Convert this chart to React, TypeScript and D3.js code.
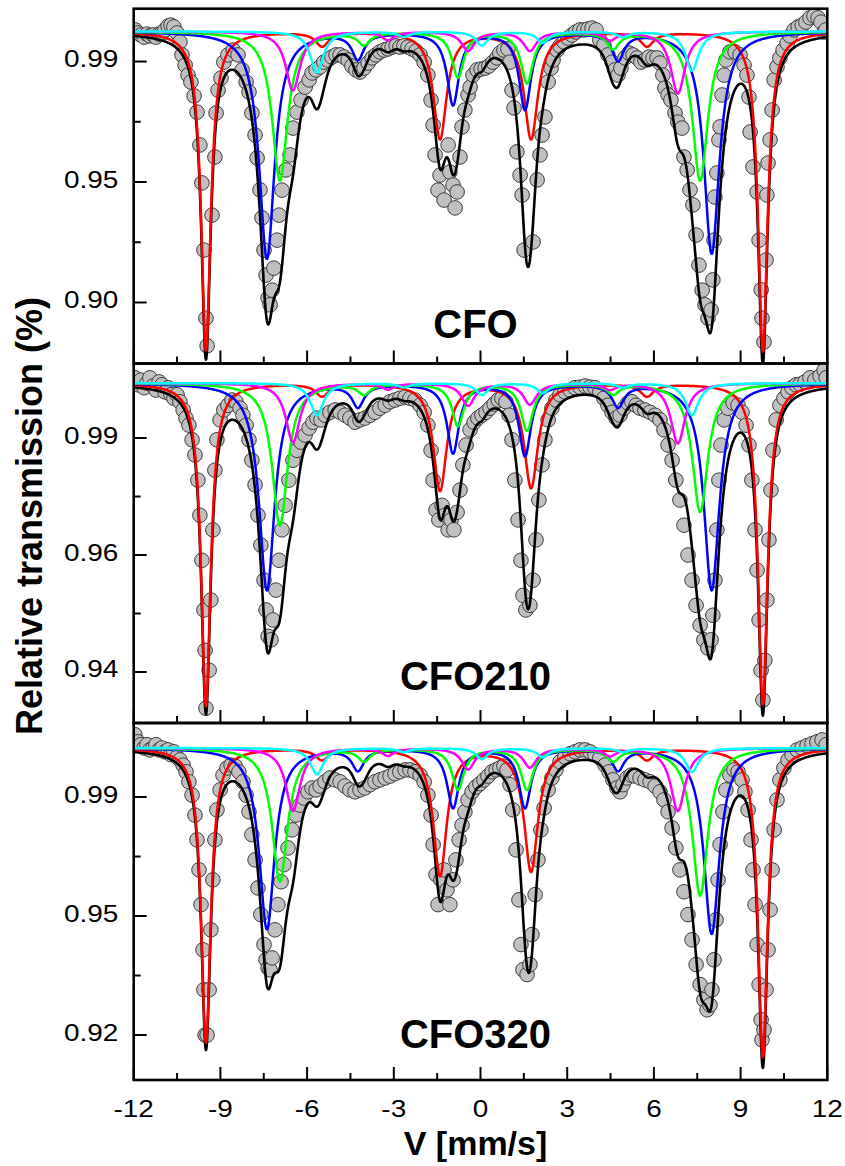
import React from "react";
import * as d3 from "d3";

// ---------- axis data ----------
const velocityDomain = [-12, 12];
const velocityTicks = [-12, -9, -6, -3, 0, 3, 6, 9, 12];
const velocityTickLabels = ["-12", "-9", "-6", "-3", "0", "3", "6", "9", "12"];
const panelNames = ["CFO", "CFO210", "CFO320"];

const cfoDomain = [0.88974, 1.00754];
const cfoTicks = [0.99, 0.95, 0.91];
const cfoTickLabels = ["0.99", "0.95", "0.90"];
const cfo210Domain = [0.94128, 1.00274];
const cfo210Ticks = [0.99, 0.97, 0.95];
const cfo210TickLabels = ["0.99", "0.96", "0.94"];
const cfo320Domain = [0.93055, 1.00555];
const cfo320Ticks = [0.99, 0.965, 0.94];
const cfo320TickLabels = ["0.99", "0.95", "0.92"];
const baselines = [1.0, 0.9994, 1.0003];

// ---------- sextet components (line positions mm/s, FWHM mm/s) ----------
const redPos = [-9.5, -5.48, -1.4, 1.75, 5.76, 9.77];
const bluePos = [-7.39, -4.24, -0.95, 1.54, 4.76, 8.0];
const greenPos = [-6.94, -4.03, -0.78, 1.61, 4.59, 7.6];
const magentaPos = [-6.49, -3.2, -0.43, 1.71, 4.48, 6.83];
const cyanPos = [-5.66, -2.65, 0.05, 2.16, 4.93, 7.32];

const redWidth = [0.4, 0.55, 0.56, 0.58, 0.55, 0.4];
const blueWidth = [0.65, 0.5, 0.5, 0.5, 0.5, 0.65];
const greenWidth = [0.65, 0.5, 0.5, 0.5, 0.5, 0.65];
const magentaWidth = [0.6, 0.5, 0.55, 0.55, 0.5, 0.6];
const cyanWidth = [0.55, 0.5, 0.5, 0.5, 0.5, 0.55];

// depths (transmission units)
const cfoRed = [0.1059, 0.0046, 0.0355, 0.0355, 0.0046, 0.1062];
const cfoBlue = [0.0754, 0.0086, 0.024, 0.0256, 0.009, 0.0737];
const cfoGreen = [0.0495, 0.004, 0.015, 0.0169, 0.0053, 0.0495];
const cfoMagenta = [0.0196, 0.0027, 0.0063, 0.0063, 0.0027, 0.0206];
const cfoCyan = [0.0136, 0.0017, 0.0046, 0.0037, 0.0017, 0.013];

const cfo210Red = [0.0552, 0.0021, 0.0183, 0.0178, 0.0021, 0.0549];
const cfo210Blue = [0.0354, 0.0038, 0.0118, 0.0123, 0.0038, 0.0354];
const cfo210Green = [0.0243, 0.0017, 0.0072, 0.008, 0.0017, 0.022];
const cfo210Magenta = [0.0101, 0.001, 0.0038, 0.0036, 0.001, 0.0103];
const cfo210Cyan = [0.0055, 0.0007, 0.002, 0.0017, 0.0007, 0.0055];

const cfo320Red = [0.0618, 0.0023, 0.0267, 0.0258, 0.0023, 0.0649];
const cfo320Blue = [0.038, 0.0044, 0.0124, 0.0124, 0.0044, 0.039];
const cfo320Green = [0.028, 0.0025, 0.0086, 0.0086, 0.0025, 0.031];
const cfo320Magenta = [0.0132, 0.0015, 0.0044, 0.004, 0.0015, 0.0132];
const cfo320Cyan = [0.0055, 0.0008, 0.0023, 0.0019, 0.0008, 0.005];

// ---------- measured points [velocity, transmission] ----------
const cfoData = [
  [-11.95, 1.0005], [-11.85, 0.9995], [-11.75, 0.9988], [-11.64, 0.9981], [-11.54, 0.9991], [-11.44, 0.9985],
  [-11.33, 0.9988], [-11.23, 0.9981], [-11.12, 0.9991], [-11.02, 0.9995], [-10.92, 1.0005], [-10.81, 1.0018],
  [-10.71, 1.0021], [-10.61, 1.0015], [-10.5, 0.9995], [-10.4, 0.9965], [-10.33, 0.9922], [-10.22, 0.9888],
  [-10.12, 0.9855], [-10.02, 0.9832], [-9.91, 0.9786], [-9.81, 0.9732], [-9.71, 0.9623], [-9.64, 0.9497],
  [-9.57, 0.9274], [-9.5, 0.9048], [-9.46, 0.8956], [-9.29, 0.939], [-9.19, 0.9583], [-9.15, 0.9729],
  [-9.08, 0.9805], [-8.98, 0.9845], [-8.88, 0.9898], [-8.74, 0.9922], [-8.56, 0.9938], [-8.39, 0.9922],
  [-8.25, 0.9872], [-8.11, 0.9832], [-8.01, 0.9799], [-7.91, 0.9729], [-7.8, 0.9656], [-7.73, 0.958],
  [-7.63, 0.9474], [-7.56, 0.9381], [-7.49, 0.9274], [-7.42, 0.9191], [-7.35, 0.9115], [-7.28, 0.9092],
  [-7.21, 0.9141], [-7.15, 0.9214], [-7.04, 0.9307], [-6.97, 0.939], [-6.87, 0.9473], [-6.73, 0.954],
  [-6.59, 0.959], [-6.49, 0.9679], [-6.35, 0.9732], [-6.21, 0.9772], [-6.07, 0.9815], [-5.93, 0.9839],
  [-5.83, 0.9862], [-5.69, 0.9872], [-5.55, 0.9882], [-5.42, 0.9898], [-5.28, 0.9905], [-5.14, 0.9915],
  [-5.0, 0.9922], [-4.86, 0.9922], [-4.72, 0.9915], [-4.58, 0.9905], [-4.45, 0.9885], [-4.31, 0.9872],
  [-4.17, 0.9865], [-4.03, 0.9878], [-3.89, 0.9895], [-3.75, 0.9912], [-3.62, 0.9922], [-3.48, 0.9932],
  [-3.34, 0.9938], [-3.2, 0.9942], [-3.06, 0.9948], [-2.92, 0.9952], [-2.79, 0.9948], [-2.65, 0.9952],
  [-2.51, 0.9948], [-2.37, 0.9942], [-2.23, 0.9935], [-2.09, 0.9922], [-1.95, 0.9898], [-1.82, 0.9855],
  [-1.71, 0.9772], [-1.64, 0.9689], [-1.57, 0.959], [-1.47, 0.9473], [-1.4, 0.9523], [-1.26, 0.944],
  [-1.12, 0.9623], [-1.06, 0.9533], [-0.95, 0.949], [-0.88, 0.9414], [-0.81, 0.9467], [-0.71, 0.9583],
  [-0.64, 0.9683], [-0.54, 0.9739], [-0.43, 0.9789], [-0.36, 0.9815], [-0.26, 0.9855], [-0.12, 0.9872],
  [0.02, 0.9875], [0.16, 0.9878], [0.29, 0.9885], [0.43, 0.9898], [0.57, 0.9912], [0.67, 0.9928],
  [0.81, 0.9938], [0.95, 0.9942], [1.02, 0.9898], [1.09, 0.9805], [1.16, 0.9746], [1.26, 0.96],
  [1.37, 0.9523], [1.44, 0.9457], [1.51, 0.9274], [1.82, 0.9301], [1.96, 0.9507], [2.06, 0.959],
  [2.13, 0.9656], [2.23, 0.9716], [2.34, 0.9832], [2.44, 0.9878], [2.51, 0.9905], [2.65, 0.9938],
  [2.75, 0.9952], [2.89, 0.9965], [3.03, 0.9978], [3.17, 0.9988], [3.3, 0.9998], [3.44, 1.0005],
  [3.58, 1.0005], [3.72, 1.0008], [3.86, 1.0011], [4.0, 1.0005], [4.13, 0.9971], [4.27, 0.9955],
  [4.41, 0.9922], [4.55, 0.9898], [4.65, 0.9872], [4.76, 0.9855], [4.86, 0.9878], [5.0, 0.9912],
  [5.14, 0.9928], [5.28, 0.9922], [5.42, 0.9912], [5.55, 0.9898], [5.69, 0.9905], [5.83, 0.9915],
  [5.97, 0.9912], [6.11, 0.9912], [6.21, 0.9895], [6.31, 0.9855], [6.38, 0.9812], [6.49, 0.9789],
  [6.59, 0.9772], [6.73, 0.9729], [6.83, 0.9699], [6.97, 0.9679], [7.04, 0.9583], [7.15, 0.954],
  [7.25, 0.9474], [7.35, 0.9424], [7.46, 0.9324], [7.56, 0.9224], [7.67, 0.9141], [7.77, 0.9092],
  [7.87, 0.9048], [7.98, 0.9075], [8.04, 0.9175], [8.08, 0.9307], [8.11, 0.945], [8.18, 0.953],
  [8.25, 0.964], [8.29, 0.9683], [8.36, 0.9789], [8.43, 0.9855], [8.49, 0.9905], [8.63, 0.9932],
  [8.81, 0.9932], [8.98, 0.9922], [9.12, 0.9888], [9.22, 0.9855], [9.29, 0.9782], [9.33, 0.9666],
  [9.43, 0.955], [9.57, 0.9467], [9.64, 0.9307], [9.71, 0.9142], [9.74, 0.9048], [9.81, 0.8969],
  [9.88, 0.9241], [9.91, 0.9457], [9.95, 0.9563], [10.02, 0.964], [10.09, 0.9739], [10.16, 0.9839],
  [10.26, 0.9882], [10.36, 0.9912], [10.47, 0.9938], [10.61, 0.9961], [10.71, 0.9985], [10.85, 1.0005],
  [10.99, 1.0015], [11.13, 1.0021], [11.26, 1.0031], [11.4, 1.0045], [11.54, 1.0051], [11.68, 1.0045],
  [11.78, 1.0031], [11.89, 0.9998], [11.95, 1.0005],
];

const cfo210Data = [
  [-11.96, 1.0003], [-11.85, 0.9991], [-11.75, 0.9999], [-11.64, 0.9986], [-11.54, 0.9994], [-11.44, 1.0003],
  [-11.33, 0.9989], [-11.23, 0.9982], [-11.12, 0.9996], [-11.02, 0.9991], [-10.92, 0.9979], [-10.81, 0.9986],
  [-10.71, 0.9974], [-10.61, 0.9968], [-10.5, 0.9974], [-10.4, 0.9962], [-10.29, 0.9948], [-10.19, 0.9934],
  [-10.09, 0.9922], [-9.98, 0.9897], [-9.88, 0.9871], [-9.78, 0.9828], [-9.71, 0.9768], [-9.64, 0.9691],
  [-9.57, 0.9606], [-9.53, 0.9537], [-9.5, 0.9438], [-9.39, 0.9503], [-9.33, 0.9623], [-9.26, 0.9743],
  [-9.19, 0.9845], [-9.12, 0.9897], [-9.01, 0.9931], [-8.88, 0.9948], [-8.74, 0.9956], [-8.6, 0.9965],
  [-8.46, 0.9962], [-8.32, 0.9951], [-8.22, 0.9939], [-8.11, 0.9922], [-8.01, 0.9897], [-7.91, 0.9862],
  [-7.8, 0.982], [-7.7, 0.9768], [-7.6, 0.9717], [-7.49, 0.9657], [-7.42, 0.9606], [-7.35, 0.9561],
  [-7.25, 0.9555], [-7.18, 0.9589], [-7.08, 0.964], [-6.97, 0.9691], [-6.87, 0.9743], [-6.76, 0.9785],
  [-6.63, 0.9828], [-6.49, 0.9862], [-6.35, 0.9879], [-6.21, 0.9893], [-6.07, 0.9905], [-5.93, 0.9917],
  [-5.8, 0.9927], [-5.66, 0.9934], [-5.52, 0.9931], [-5.38, 0.9939], [-5.21, 0.9944], [-5.03, 0.9948],
  [-4.86, 0.9944], [-4.69, 0.9939], [-4.52, 0.9934], [-4.34, 0.9927], [-4.17, 0.9931], [-4.0, 0.9934],
  [-3.82, 0.9939], [-3.65, 0.9944], [-3.48, 0.9951], [-3.3, 0.9956], [-3.13, 0.9962], [-2.96, 0.9965],
  [-2.79, 0.9968], [-2.61, 0.997], [-2.44, 0.9968], [-2.27, 0.9965], [-2.09, 0.9956], [-1.95, 0.9944],
  [-1.82, 0.9922], [-1.71, 0.9879], [-1.64, 0.9828], [-1.54, 0.9777], [-1.44, 0.976], [-1.33, 0.9785],
  [-1.23, 0.9768], [-1.12, 0.9743], [-1.02, 0.976], [-0.92, 0.9743], [-0.81, 0.9773], [-0.71, 0.9811],
  [-0.61, 0.9854], [-0.5, 0.9888], [-0.36, 0.9914], [-0.22, 0.9927], [-0.09, 0.9934], [0.05, 0.9939],
  [0.19, 0.9944], [0.33, 0.9951], [0.47, 0.9958], [0.61, 0.9965], [0.74, 0.9968], [0.88, 0.9962],
  [0.99, 0.9939], [1.09, 0.9897], [1.19, 0.9828], [1.3, 0.976], [1.4, 0.9691], [1.47, 0.9631],
  [1.57, 0.9606], [1.71, 0.9614], [1.82, 0.9657], [1.92, 0.9726], [2.02, 0.9794], [2.13, 0.9854],
  [2.23, 0.9897], [2.34, 0.9931], [2.47, 0.9951], [2.61, 0.9965], [2.75, 0.9974], [2.92, 0.9979],
  [3.1, 0.9982], [3.27, 0.9986], [3.44, 0.9987], [3.62, 0.9989], [3.79, 0.9987], [3.96, 0.9986],
  [4.13, 0.9979], [4.27, 0.9968], [4.41, 0.9956], [4.55, 0.9944], [4.69, 0.9934], [4.83, 0.9939],
  [4.97, 0.9951], [5.1, 0.996], [5.24, 0.9962], [5.38, 0.9956], [5.52, 0.9951], [5.69, 0.9948],
  [5.87, 0.9944], [6.04, 0.9939], [6.21, 0.9931], [6.35, 0.9914], [6.49, 0.9888], [6.63, 0.9862],
  [6.76, 0.9828], [6.9, 0.9794], [7.04, 0.9751], [7.18, 0.97], [7.32, 0.9657], [7.46, 0.9614],
  [7.6, 0.958], [7.73, 0.9555], [7.87, 0.9541], [7.98, 0.9555], [8.04, 0.9597], [8.11, 0.9657],
  [8.18, 0.9743], [8.25, 0.9828], [8.32, 0.9888], [8.43, 0.9931], [8.56, 0.9951], [8.74, 0.996],
  [8.91, 0.9956], [9.05, 0.9944], [9.19, 0.9922], [9.29, 0.9888], [9.39, 0.9828], [9.5, 0.9743],
  [9.57, 0.9674], [9.64, 0.9589], [9.71, 0.9503], [9.77, 0.9452], [9.84, 0.952], [9.91, 0.9623],
  [9.98, 0.9726], [10.05, 0.9811], [10.12, 0.9879], [10.23, 0.9931], [10.36, 0.9956], [10.5, 0.9968],
  [10.64, 0.9979], [10.78, 0.9986], [10.92, 0.9991], [11.06, 0.9992], [11.23, 0.9996], [11.4, 1.0003],
  [11.57, 0.9999], [11.75, 1.0006], [11.89, 1.0016], [11.96, 1.0003],
];

const cfo320Data = [
  [-11.96, 1.0031], [-11.85, 1.0016], [-11.75, 1.001], [-11.64, 1.0003], [-11.54, 1.001], [-11.44, 0.9999],
  [-11.33, 1.0003], [-11.23, 1.001], [-11.12, 0.9999], [-11.02, 1.0003], [-10.92, 0.9995], [-10.81, 0.9999],
  [-10.71, 0.9989], [-10.61, 0.9995], [-10.5, 0.9984], [-10.4, 0.9978], [-10.29, 0.9967], [-10.19, 0.9953],
  [-10.09, 0.9932], [-9.98, 0.9904], [-9.88, 0.9862], [-9.81, 0.981], [-9.74, 0.9747], [-9.67, 0.9674],
  [-9.6, 0.9579], [-9.57, 0.9495], [-9.53, 0.94], [-9.46, 0.94], [-9.39, 0.9495], [-9.33, 0.9621],
  [-9.26, 0.9726], [-9.19, 0.981], [-9.12, 0.9873], [-9.01, 0.9915], [-8.91, 0.9946], [-8.77, 0.9961],
  [-8.63, 0.9967], [-8.49, 0.9965], [-8.36, 0.9953], [-8.22, 0.9932], [-8.11, 0.9904], [-8.01, 0.9869],
  [-7.91, 0.9821], [-7.8, 0.9768], [-7.7, 0.9709], [-7.6, 0.9653], [-7.49, 0.959], [-7.42, 0.9558],
  [-7.35, 0.9541], [-7.28, 0.9537], [-7.21, 0.9562], [-7.11, 0.9621], [-7.01, 0.9674], [-6.9, 0.9722],
  [-6.8, 0.9758], [-6.66, 0.9793], [-6.52, 0.9831], [-6.38, 0.9862], [-6.25, 0.9883], [-6.11, 0.9898],
  [-5.97, 0.9911], [-5.83, 0.9919], [-5.69, 0.9915], [-5.55, 0.9923], [-5.38, 0.9932], [-5.21, 0.994],
  [-5.03, 0.9936], [-4.86, 0.9932], [-4.69, 0.9923], [-4.52, 0.9915], [-4.34, 0.9911], [-4.17, 0.9915],
  [-4.0, 0.9919], [-3.82, 0.9926], [-3.65, 0.9932], [-3.48, 0.9936], [-3.3, 0.994], [-3.13, 0.9944],
  [-2.96, 0.9949], [-2.79, 0.9953], [-2.61, 0.9957], [-2.44, 0.9957], [-2.27, 0.9953], [-2.09, 0.9946],
  [-1.95, 0.9932], [-1.82, 0.9904], [-1.71, 0.9862], [-1.64, 0.98], [-1.54, 0.9737], [-1.47, 0.9674],
  [-1.37, 0.9726], [-1.26, 0.9747], [-1.16, 0.9705], [-1.06, 0.9674], [-0.95, 0.9726], [-0.85, 0.9768],
  [-0.74, 0.981], [-0.64, 0.9841], [-0.54, 0.9869], [-0.43, 0.9894], [-0.29, 0.9911], [-0.16, 0.9921],
  [-0.02, 0.9928], [0.12, 0.9936], [0.26, 0.9944], [0.4, 0.9953], [0.54, 0.9957], [0.67, 0.9961],
  [0.81, 0.9965], [0.92, 0.9957], [1.02, 0.9926], [1.12, 0.9873], [1.23, 0.9789], [1.33, 0.9684],
  [1.4, 0.959], [1.47, 0.9537], [1.61, 0.9527], [1.71, 0.9548], [1.78, 0.9611], [1.89, 0.9695],
  [1.99, 0.9768], [2.09, 0.9831], [2.2, 0.9877], [2.34, 0.9915], [2.47, 0.994], [2.61, 0.9957],
  [2.75, 0.9974], [2.92, 0.9984], [3.1, 0.9991], [3.27, 0.9995], [3.44, 0.9999], [3.62, 0.9999],
  [3.79, 0.9995], [3.96, 0.9989], [4.13, 0.9982], [4.31, 0.9967], [4.45, 0.9953], [4.58, 0.9936],
  [4.72, 0.9919], [4.83, 0.9911], [4.93, 0.9926], [5.07, 0.994], [5.21, 0.9946], [5.35, 0.9944],
  [5.52, 0.994], [5.69, 0.9936], [5.87, 0.9932], [6.04, 0.9923], [6.21, 0.9911], [6.35, 0.9894],
  [6.49, 0.9869], [6.63, 0.9835], [6.76, 0.9793], [6.9, 0.9747], [7.04, 0.9701], [7.18, 0.9653],
  [7.32, 0.96], [7.46, 0.9548], [7.6, 0.9506], [7.73, 0.9474], [7.84, 0.9453], [7.94, 0.9463],
  [8.01, 0.9495], [8.08, 0.9558], [8.15, 0.9642], [8.22, 0.9726], [8.29, 0.98], [8.39, 0.9869],
  [8.49, 0.9915], [8.63, 0.9946], [8.77, 0.9957], [8.91, 0.9953], [9.05, 0.9936], [9.15, 0.9911],
  [9.26, 0.9873], [9.36, 0.981], [9.43, 0.9747], [9.5, 0.9674], [9.57, 0.959], [9.64, 0.9506],
  [9.71, 0.9432], [9.74, 0.939], [9.81, 0.9411], [9.88, 0.9495], [9.95, 0.9579], [10.02, 0.9663],
  [10.09, 0.9747], [10.16, 0.9831], [10.26, 0.9894], [10.36, 0.9936], [10.5, 0.9961], [10.64, 0.9978],
  [10.78, 0.9989], [10.95, 0.9999], [11.12, 1.0003], [11.3, 1.0008], [11.47, 1.0012], [11.64, 1.0016],
  [11.82, 1.002], [11.96, 1.001],
];

// ---------- helpers ----------
const sextet = (v: number, pos: number[], depth: number[], width: number[]) => {
  let s = 0;
  for (let i = 0; i < pos.length; i++) {
    const h = width[i] / 2;
    const u = (v - pos[i]) / h;
    s += depth[i] / (1 + u * u);
  }
  return s;
};

const componentColors = ["#ff0000", "#0000ff", "#00ff00", "#ff00ff", "#00ffff"];
const componentPos = [redPos, bluePos, greenPos, magentaPos, cyanPos];
const componentWidth = [redWidth, blueWidth, greenWidth, magentaWidth, cyanWidth];
const panelDepths = [
  [cfoRed, cfoBlue, cfoGreen, cfoMagenta, cfoCyan],
  [cfo210Red, cfo210Blue, cfo210Green, cfo210Magenta, cfo210Cyan],
  [cfo320Red, cfo320Blue, cfo320Green, cfo320Magenta, cfo320Cyan],
];
const panelData = [cfoData, cfo210Data, cfo320Data];
const panelDomains = [cfoDomain, cfo210Domain, cfo320Domain];
const panelTicks = [cfoTicks, cfo210Ticks, cfo320Ticks];
const panelTickLabels = [cfoTickLabels, cfo210TickLabels, cfo320TickLabels];

export default function App() {
  const W = 845;
  const H = 1166;
  const left = 133.7;
  const right = 827.3;
  const panelTops = [8.7, 363.5, 723];
  const panelBottoms = [363.5, 723, 1080];
  const nameBaselines = [338, 690, 1048];
  const font = "'Liberation Sans', Arial, Helvetica, sans-serif";

  const x = d3.scaleLinear().domain(velocityDomain).range([left, right]);
  const grid = d3.range(velocityDomain[0], velocityDomain[1] + 0.0001, 0.01);
  const minorX = d3.range(velocityDomain[0] + 1.5, velocityDomain[1], 3);

  return (
    <svg
      width={W}
      height={H}
      style={{ position: "absolute", left: 0, top: 0, background: "#fff" }}
      fontFamily={font}
    >
      <defs>
        {panelTops.map((t, p) => (
          <clipPath id={`clip${p}`} key={p}>
            <rect x={left} y={t} width={right - left} height={panelBottoms[p] - t} />
          </clipPath>
        ))}
      </defs>
      {panelTops.map((top, p) => {
        const bottom = panelBottoms[p];
        const y = d3.scaleLinear().domain(panelDomains[p]).range([bottom, top]);
        const base = baselines[p];
        const depths = panelDepths[p];
        const line = d3
          .line<[number, number]>()
          .x((d) => x(d[0]))
          .y((d) => y(d[1]));
        const comps = depths.map((dep, c) =>
          grid.map((v) => [v, base - sextet(v, componentPos[c], dep, componentWidth[c])] as [number, number])
        );
        const total = grid.map(
          (v) =>
            [v, base - depths.reduce((s, dep, c) => s + sextet(v, componentPos[c], dep, componentWidth[c]), 0)] as [
              number,
              number
            ]
        );
        const ticks = panelTicks[p];
        const minorY = ticks.slice(0, -1).map((t, i) => (t + ticks[i + 1]) / 2);
        return (
          <g key={p}>
            <g clipPath={`url(#clip${p})`}>
              {(panelData[p] as [number, number][]).map((d, i) => (
                <circle
                  key={i}
                  cx={x(d[0])}
                  cy={y(d[1])}
                  r={7.3}
                  fill="#c0c0c0"
                  stroke="#3c3c3c"
                  strokeWidth={1}
                />
              ))}
              <path d={line(total) || ""} fill="none" stroke="#000" strokeWidth={2.6} strokeLinejoin="round" />
              {comps.map((c, i) => (
                <path
                  key={i}
                  d={line(c) || ""}
                  fill="none"
                  stroke={componentColors[i]}
                  strokeWidth={2.5}
                  strokeLinejoin="round"
                />
              ))}
            </g>
            {velocityTicks.map((t, i) => (
              <line key={"xm" + i} x1={x(t)} x2={x(t)} y1={bottom} y2={bottom - 13} stroke="#000" strokeWidth={2} />
            ))}
            {minorX.map((t, i) => (
              <line key={"xn" + i} x1={x(t)} x2={x(t)} y1={bottom} y2={bottom - 7} stroke="#000" strokeWidth={2} />
            ))}
            {ticks.map((t, i) => (
              <g key={"ym" + i}>
                <line x1={left} x2={left + 13} y1={y(t)} y2={y(t)} stroke="#000" strokeWidth={2} />
                <g transform={`translate(118.3,${y(t) + 5.5}) scale(1.2,1)`}>
                  <text textAnchor="end" fontSize={23.3} fill="#000">
                    {panelTickLabels[p][i]}
                  </text>
                </g>
              </g>
            ))}
            {minorY.map((t, i) => (
              <line key={"yn" + i} x1={left} x2={left + 7} y1={y(t)} y2={y(t)} stroke="#000" strokeWidth={2} />
            ))}
            <rect
              x={left}
              y={top}
              width={right - left}
              height={bottom - top}
              fill="none"
              stroke="#000"
              strokeWidth={2.6}
            />
            <text x={475.5} y={nameBaselines[p]} textAnchor="middle" fontSize={40} fontWeight="bold" fill="#000">
              {panelNames[p]}
            </text>
          </g>
        );
      })}
      {velocityTicks.map((t, i) => (
        <g key={"xl" + i} transform={`translate(${x(t)},1117) scale(1.2,1)`}>
          <text textAnchor="middle" fontSize={23.3} fill="#000">
            {velocityTickLabels[i]}
          </text>
        </g>
      ))}
      <text x={475.5} y={1155} textAnchor="middle" fontSize={34} fontWeight="bold" fill="#000">
        V [mm/s]
      </text>
      <text
        transform="translate(42,516) rotate(-90)"
        textAnchor="middle"
        fontSize={36}
        fontWeight="bold"
        fill="#000"
      >
        Relative transmission (%)
      </text>
    </svg>
  );
}
